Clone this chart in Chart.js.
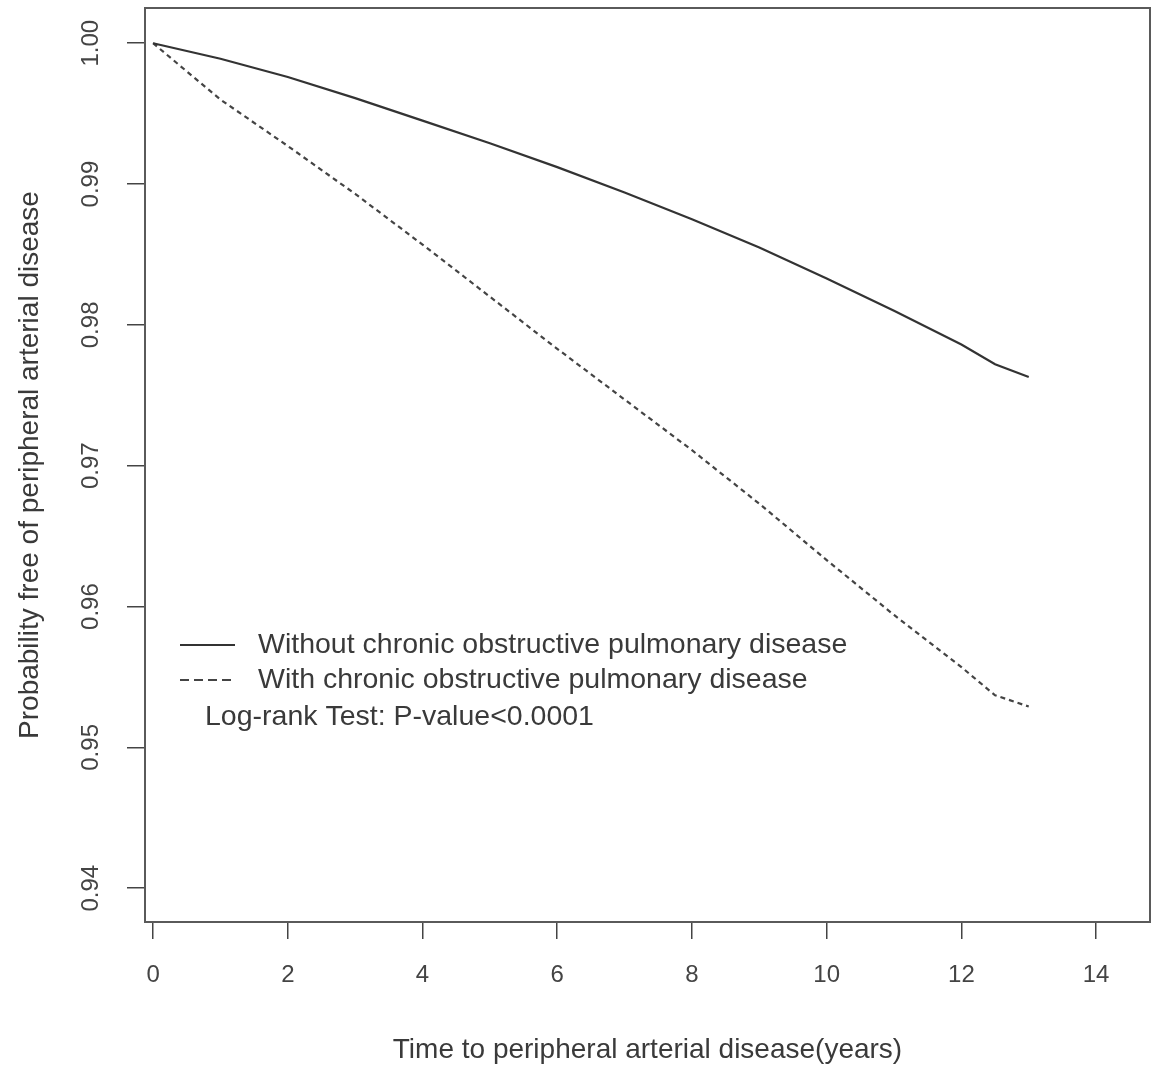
<!DOCTYPE html>
<html lang="en">
<head>
  <meta charset="UTF-8">
  <title>Kaplan-Meier: peripheral arterial disease</title>
  <script src="https://cdn.jsdelivr.net/npm/chart.js"></script>
  <style>
    html, body {
      margin: 0;
      padding: 0;
      background: #fff;
    }
    #km {
      display: block;
    }
  </style>
</head>
<body>
  <canvas id="km" width="1158" height="1070"></canvas>
  <script>
    // values
    const years = [0, 1, 2, 3, 4, 5, 6, 7, 8, 9, 10, 11, 12, 12.5, 13];
    const withoutCOPD = [1.0000, 0.9989, 0.9976, 0.9961, 0.9945, 0.9929, 0.9912, 0.9894, 0.9875, 0.9855, 0.9833, 0.9810, 0.9786, 0.9772, 0.9763];
    const withCOPD = [1.0000, 0.9960, 0.9927, 0.9893, 0.9857, 0.9820, 0.9783, 0.9747, 0.9711, 0.9673, 0.9633, 0.9594, 0.9557, 0.9537, 0.9529];

    const seriesNames = ['Without chronic obstructive pulmonary disease', 'With chronic obstructive pulmonary disease'];
    const noteText = 'Log-rank Test: P-value<0.0001';

    const xTicks = [0, 2, 4, 6, 8, 10, 12, 14];
    const yTicks = [0.94, 0.95, 0.96, 0.97, 0.98, 0.99, 1.00];

    const FONT = '"Liberation Sans", Arial, sans-serif';
    const INK = '#3a3a3a';

    const toPoints = (xs, ys) => xs.map((x, i) => ({ x: x, y: ys[i] }));

    // R-style box around the plot region
    const boxPlugin = {
      id: 'box',
      afterDraw(chart) {
        const { ctx, chartArea: a } = chart;
        ctx.save();
        ctx.strokeStyle = '#5a5a5a';
        ctx.lineWidth = 2;
        ctx.strokeRect(a.left, a.top, a.right - a.left, a.bottom - a.top);
        ctx.restore();
      }
    };

    // legend drawn inside the plot like base R legend()
    const kmLegend = {
      id: 'kmLegend',
      afterDatasetsDraw(chart) {
        const { ctx, chartArea: a } = chart;
        const x0 = a.left + 35;
        const y0 = a.top + 637;
        ctx.save();
        ctx.font = '28.5px ' + FONT;
        ctx.textBaseline = 'middle';
        ctx.fillStyle = INK;
        chart.data.datasets.forEach((ds, i) => {
          const y = y0 + i * 35;
          ctx.strokeStyle = ds.borderColor;
          ctx.lineWidth = 2;
          ctx.setLineDash(i === 0 ? [] : [9, 5]);
          ctx.beginPath();
          ctx.moveTo(x0, y);
          ctx.lineTo(x0 + 55, y);
          ctx.stroke();
          ctx.fillText(ds.label, x0 + 78, y);
        });
        ctx.fillText(noteText, x0 + 25, y0 + 72);
        ctx.restore();
      }
    };

    const ctx = document.getElementById('km').getContext('2d');
    new Chart(ctx, {
      type: 'line',
      data: {
        datasets: [{
          label: seriesNames[0],
          data: toPoints(years, withoutCOPD),
          borderColor: '#333',
          borderWidth: 2.2,
          pointRadius: 0,
          tension: 0
        }, {
          label: seriesNames[1],
          data: toPoints(years, withCOPD),
          borderColor: '#444',
          borderWidth: 2.2,
          borderDash: [5, 4],
          pointRadius: 0,
          tension: 0
        }]
      },
      options: {
        responsive: false,
        animation: false,
        layout: {
          padding: { top: 8, right: 8, left: 0, bottom: 0 }
        },
        plugins: {
          legend: { display: false },
          tooltip: { enabled: false }
        },
        scales: {
          x: {
            type: 'linear',
            min: -0.12,
            max: 14.8,
            afterFit: (scale) => {
              scale.height = 148;
              scale.paddingLeft = 0;
              scale.paddingRight = 0;
            },
            afterBuildTicks: (scale) => { scale.ticks = xTicks.map(v => ({ value: v })); },
            grid: {
              drawOnChartArea: false,
              drawTicks: true,
              tickLength: 17,
              color: '#444',
              lineWidth: 1.5
            },
            border: { display: true, color: '#5a5a5a', width: 2 },
            ticks: {
              padding: 22,
              color: '#444',
              font: { family: FONT, size: 24 },
              maxRotation: 0,
              callback: (v) => String(v)
            },
            title: {
              display: true,
              text: 'Time to peripheral arterial disease(years)',
              color: INK,
              font: { family: FONT, size: 28 },
              padding: { top: 0, bottom: 3 }
            }
          },
          y: {
            type: 'linear',
            min: 0.9376,
            max: 1.0025,
            afterFit: (scale) => {
              scale.width = 145;
              scale.paddingTop = 0;
              scale.paddingBottom = 0;
            },
            afterBuildTicks: (scale) => { scale.ticks = yTicks.map(v => ({ value: v })); },
            grid: {
              drawOnChartArea: false,
              drawTicks: true,
              tickLength: 18,
              color: '#444',
              lineWidth: 1.5
            },
            border: { display: true, color: '#5a5a5a', width: 2 },
            ticks: {
              padding: 12,
              color: '#444',
              minRotation: 90,
              maxRotation: 90,
              crossAlign: 'center',
              font: { family: FONT, size: 24 },
              callback: (v) => Number(v).toFixed(2)
            },
            title: {
              display: true,
              text: 'Probability free of peripheral arterial disease',
              color: INK,
              font: { family: FONT, size: 28 },
              padding: { top: 13, bottom: 0 }
            }
          }
        }
      },
      plugins: [boxPlugin, kmLegend]
    });
  </script>
</body>
</html>
